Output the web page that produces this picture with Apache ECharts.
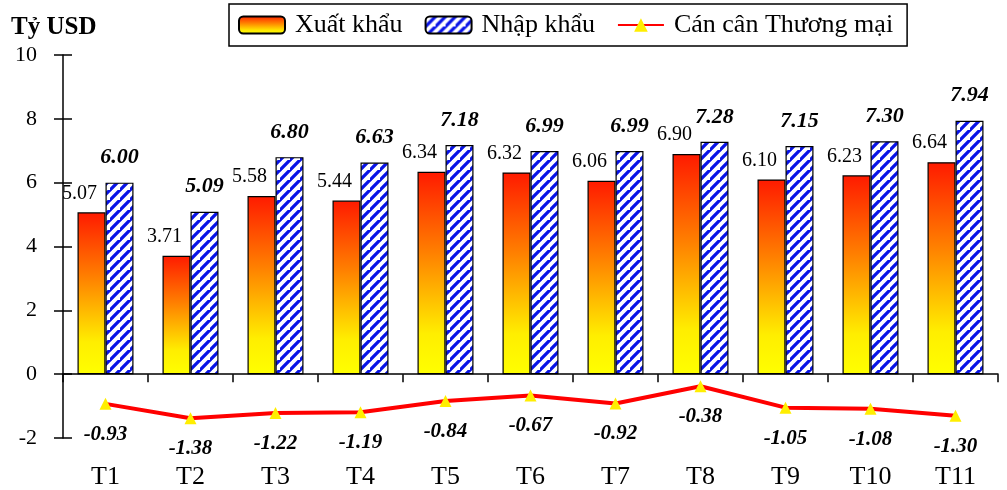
<!DOCTYPE html>
<html>
<head>
<meta charset="utf-8">
<script src="https://cdn.jsdelivr.net/npm/echarts@6/dist/echarts.min.js"></script>
<style>html,body{margin:0;padding:0;background:#fff}#c{width:1007px;height:490px}</style>
</head>
<body>
<div id="c"></div>
<script>
const categories = ['T1','T2','T3','T4','T5','T6','T7','T8','T9','T10','T11'];
const exportValues = [5.07, 3.71, 5.58, 5.44, 6.34, 6.32, 6.06, 6.90, 6.10, 6.23, 6.64];
const importValues = [6.00, 5.09, 6.80, 6.63, 7.18, 6.99, 6.99, 7.28, 7.15, 7.30, 7.94];
const balanceValues = [-0.93, -1.38, -1.22, -1.19, -0.84, -0.67, -0.92, -0.38, -1.05, -1.08, -1.30];
const yTicks = [-2, 0, 2, 4, 6, 8, 10];

const FONT = '"Liberation Serif", "Times New Roman", serif';

function stripePattern() {
  const s = 10;
  const c = document.createElement('canvas');
  c.width = s; c.height = s;
  const g = c.getContext('2d');
  g.fillStyle = '#ffffff';
  g.fillRect(0, 0, s, s);
  g.strokeStyle = '#0a14e6';
  g.lineWidth = 3.3;
  g.beginPath();
  g.moveTo(-1, s + 1); g.lineTo(s + 1, -1);
  g.moveTo(-1 - s, s + 1); g.lineTo(1, -1);
  g.moveTo(s - 1, 2 * s + 1); g.lineTo(2 * s + 1, s - 1);
  g.stroke();
  return c;
}

const chart = echarts.init(document.getElementById('c'));
chart.setOption({
  animation: false,
  backgroundColor: '#ffffff',
  textStyle: { fontFamily: FONT, color: '#000' },
  title: {
    text: 'Tỷ USD', left: 11, top: 15, padding: 0,
    textStyle: { fontFamily: FONT, fontSize: 25, fontWeight: 'bold', color: '#000' }
  },
  legend: {
    left: 229, top: 4,
    padding: [8, 14, 8, 9],
    borderColor: '#000', borderWidth: 1.5,
    itemWidth: 46, itemHeight: 17, itemGap: 22,
    textStyle: { fontFamily: FONT, fontSize: 26, color: '#000', padding: [0, 0, 0, 5] },
    data: ['Xuất khẩu', 'Nhập khẩu', 'Cán cân Thương mại']
  },
  grid: { left: 63, right: 9, top: 55, bottom: 51, containLabel: false },
  xAxis: [
    {
      type: 'category', data: categories,
      axisLine: { onZero: true, lineStyle: { color: '#000', width: 1.5 } },
      axisTick: { show: true, length: 8, lineStyle: { color: '#000', width: 1.5 } },
      axisLabel: { show: false }
    },
    {
      type: 'category', data: categories, position: 'bottom',
      axisLine: { show: false, onZero: false },
      axisTick: { show: false },
      axisLabel: { show: true, margin: 26, fontFamily: FONT, fontSize: 26, color: '#000' }
    }
  ],
  yAxis: [
    {
      type: 'value', min: yTicks[0], max: yTicks[yTicks.length - 1], interval: 2,
      axisLine: { show: true, lineStyle: { color: '#000', width: 1.5 } },
      axisTick: { show: true, length: 9, lineStyle: { color: '#000', width: 1.5 } },
      axisLabel: { margin: 26, fontFamily: FONT, fontSize: 22, color: '#000' },
      splitLine: { show: false }
    },
    {
      type: 'value', position: 'left', min: yTicks[0], max: yTicks[yTicks.length - 1], interval: 2,
      axisLine: { show: false },
      axisTick: { show: true, inside: true, length: 9, lineStyle: { color: '#000', width: 1.5 } },
      axisLabel: { show: false },
      splitLine: { show: false }
    }
  ],
  series: [
    {
      name: 'Xuất khẩu', type: 'bar', data: exportValues,
      barWidth: 28, barGap: '0%',
      itemStyle: {
        color: new echarts.graphic.LinearGradient(0, 0, 0, 1, [
          { offset: 0, color: '#ff1a00' },
          { offset: 0.4, color: '#ff8000' },
          { offset: 0.8, color: '#ffee00' },
          { offset: 1, color: '#ffff00' }
        ]),
        borderColor: '#000', borderWidth: 1.2
      },
      label: {
        show: true, position: 'top', distance: 9, offset: [-12, 0],
        fontFamily: FONT, fontSize: 20, color: '#000',
        formatter: p => p.value.toFixed(2)
      }
    },
    {
      name: 'Nhập khẩu', type: 'bar', data: importValues,
      barWidth: 28, barGap: '0%',
      itemStyle: {
        color: { image: stripePattern(), repeat: 'repeat' },
        borderColor: '#000', borderWidth: 1.2
      },
      label: {
        show: true, position: 'top', distance: 14,
        fontFamily: FONT, fontSize: 22, fontWeight: 'bold', fontStyle: 'italic', color: '#000',
        formatter: p => p.value.toFixed(2)
      }
    },
    {
      name: 'Cán cân Thương mại', type: 'line', data: balanceValues,
      symbol: 'triangle', symbolSize: 12,
      lineStyle: { color: '#ff0000', width: 4 },
      itemStyle: { color: '#ffee00', borderWidth: 0 },
      label: {
        show: true, position: 'bottom', distance: 14,
        fontFamily: FONT, fontSize: 21, fontWeight: 'bold', fontStyle: 'italic', color: '#000',
        formatter: p => p.value.toFixed(2)
      },
      z: 5
    }
  ]
});
</script>
</body>
</html>
